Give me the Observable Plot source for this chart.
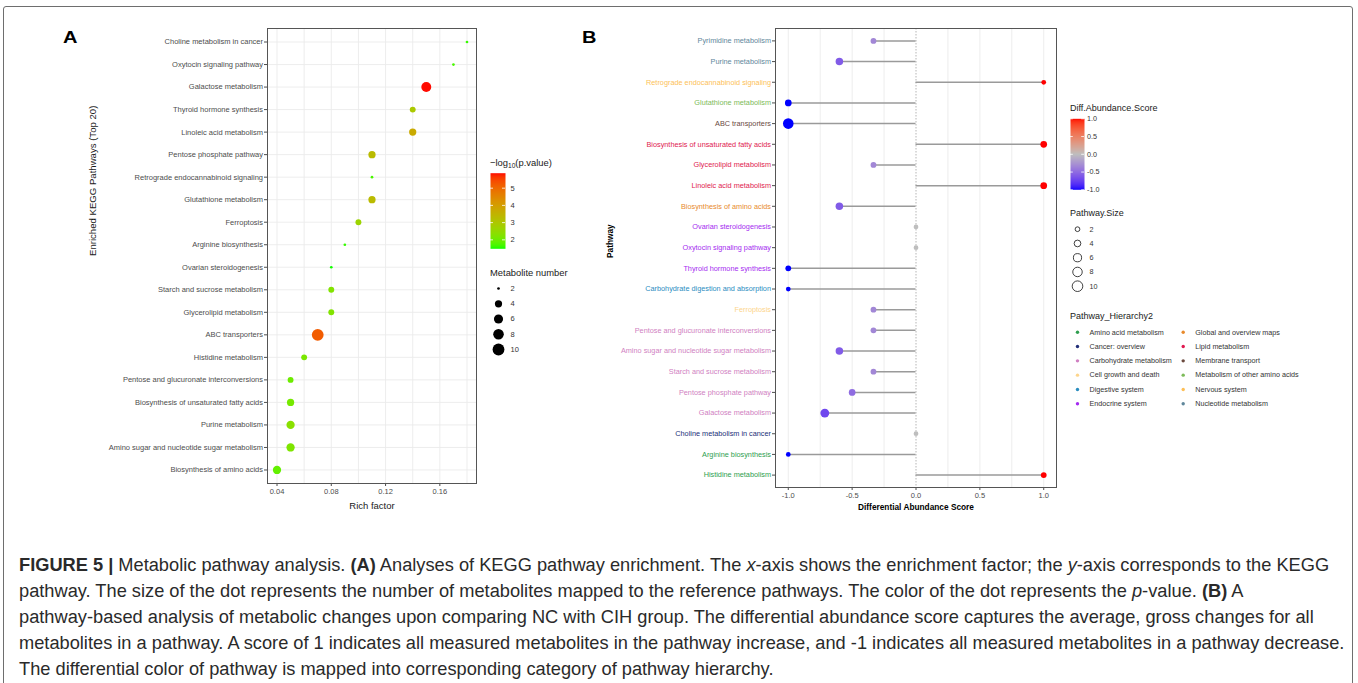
<!DOCTYPE html>
<html>
<head>
<meta charset="utf-8">
<script src="https://cdn.jsdelivr.net/npm/d3@7"></script>
<script src="https://cdn.jsdelivr.net/npm/@observablehq/plot@0.6"></script>
<style>
  html, body { margin: 0; padding: 0; background: #fff; overflow: hidden; }
  #root { position: relative; width: 1358px; height: 683px; overflow: hidden; font-family: "Liberation Sans", Arial, Helvetica, sans-serif; }
  .abs { position: absolute; }
  .abs svg { display: block; }
  .t { position: absolute; white-space: nowrap; }
  .sub { font-size: 0.7em; vertical-align: -0.3em; line-height: 0; }
</style>
</head>
<body>
<div id="root"></div>
<script>
const FONT = '"Liberation Sans", Arial, Helvetica, sans-serif';

// ---------------- Panel A: KEGG enrichment (top 20) ----------------
const pathwaysA = [
  "Choline metabolism in cancer", "Oxytocin signaling pathway", "Galactose metabolism",
  "Thyroid hormone synthesis", "Linoleic acid metabolism", "Pentose phosphate pathway",
  "Retrograde endocannabinoid signaling", "Glutathione metabolism", "Ferroptosis",
  "Arginine biosynthesis", "Ovarian steroidogenesis", "Starch and sucrose metabolism",
  "Glycerolipid metabolism", "ABC transporters", "Histidine metabolism",
  "Pentose and glucuronate interconversions", "Biosynthesis of unsaturated fatty acids",
  "Purine metabolism", "Amino sugar and nucleotide sugar metabolism", "Biosynthesis of amino acids"
];
const richFactor = [0.18, 0.17, 0.15, 0.14, 0.14, 0.11, 0.11, 0.11, 0.10, 0.09, 0.08, 0.08, 0.08, 0.07, 0.06, 0.05, 0.05, 0.05, 0.05, 0.04];
const negLog10P = [1.6, 1.7, 5.85, 2.95, 3.7, 3.3, 1.7, 3.3, 2.65, 1.6, 1.5, 2.25, 2.25, 5.2, 2.15, 2.0, 2.1, 2.35, 2.2, 1.9];
const metaboliteNumber = [2, 2, 7, 3, 4, 4, 2, 4, 3, 2, 2, 3, 3, 10, 3, 3, 4, 5, 5, 5];

const ticksA = [0.04, 0.08, 0.12, 0.16];
const gridA = [0.04, 0.06, 0.08, 0.10, 0.12, 0.14, 0.16, 0.18];
const colorTicksA = [2, 3, 4, 5];
const sizeTicksA = [2, 4, 6, 8, 10];

// ---------------- Panel B: differential abundance ----------------
const pathwaysB = [
  "Pyrimidine metabolism", "Purine metabolism", "Retrograde endocannabinoid signaling",
  "Glutathione metabolism", "ABC transporters", "Biosynthesis of unsaturated fatty acids",
  "Glycerolipid metabolism", "Linoleic acid metabolism", "Biosynthesis of amino acids",
  "Ovarian steroidogenesis", "Oxytocin signaling pathway", "Thyroid hormone synthesis",
  "Carbohydrate digestion and absorption", "Ferroptosis", "Pentose and glucuronate interconversions",
  "Amino sugar and nucleotide sugar metabolism", "Starch and sucrose metabolism",
  "Pentose phosphate pathway", "Galactose metabolism", "Choline metabolism in cancer",
  "Arginine biosynthesis", "Histidine metabolism"
];
const diffScore = [-0.333, -0.6, 1, -1, -1, 1, -0.333, 1, -0.6, 0, 0, -1, -1, -0.333, -0.333, -0.6, -0.333, -0.5, -0.714, 0, -1, 1];
const pathwaySize = [3, 5, 2, 4, 10, 4, 3, 4, 5, 2, 2, 3, 2, 3, 3, 5, 3, 4, 7, 2, 2, 3];
const hierarchyB = [
  "Nucleotide metabolism", "Nucleotide metabolism", "Nervous system",
  "Metabolism of other amino acids", "Membrane transport", "Lipid metabolism",
  "Lipid metabolism", "Lipid metabolism", "Global and overview maps",
  "Endocrine system", "Endocrine system", "Endocrine system",
  "Digestive system", "Cell growth and death", "Carbohydrate metabolism",
  "Carbohydrate metabolism", "Carbohydrate metabolism", "Carbohydrate metabolism",
  "Carbohydrate metabolism", "Cancer: overview", "Amino acid metabolism", "Amino acid metabolism"
];
const hierarchyNames = [
  "Amino acid metabolism", "Cancer: overview", "Carbohydrate metabolism",
  "Cell growth and death", "Digestive system", "Endocrine system",
  "Global and overview maps", "Lipid metabolism", "Membrane transport",
  "Metabolism of other amino acids", "Nervous system", "Nucleotide metabolism"
];
const hierarchyColors = [
  "#2e9e4f", "#222f78", "#d07fc2", "#fdd58c", "#2a8dbf", "#a52cf0",
  "#e88a2c", "#e01a50", "#6b4a3f", "#7dbb5a", "#fdbf57", "#5f879b"
];
const ticksB = [-1, -0.5, 0, 0.5, 1];
const gridB = [-1, -0.75, -0.5, -0.25, 0.25, 0.5, 0.75, 1];
const colorTicksB = [-1, -0.5, 0, 0.5, 1];
const sizeTicksB = [2, 4, 6, 8, 10];

// ---------------- helpers ----------------
const root = document.getElementById("root");
function put(el, x, y) {
  const w = document.createElement("div");
  w.className = "abs";
  w.style.left = x + "px";
  w.style.top = y + "px";
  w.appendChild(el);
  root.appendChild(w);
  return w;
}
function text(html, x, baseline, fs, extra = {}) {
  const d = document.createElement("div");
  d.className = "t";
  d.innerHTML = html;
  Object.assign(d.style, {
    left: x + "px", top: (baseline - 0.8465 * fs) + "px",
    fontSize: fs + "px", lineHeight: fs + "px", color: "#1a1a1a"
  }, extra);
  root.appendChild(d);
  return d;
}
const baseStyle = {fontFamily: FONT, fontSize: "7.5px", color: "#4d4d4d", background: "transparent", overflow: "visible"};

// ---------------- outer frame ----------------
const frameDiv = document.createElement("div");
Object.assign(frameDiv.style, {position: "absolute", left: "3px", top: "6px", width: "1348px", height: "720px", border: "1.5px solid #6e6e6e", borderRadius: "3px"});
root.appendChild(frameDiv);

// ---------------- Panel A ----------------
const dataA = pathwaysA.map((p, i) => ({pathway: p, rich: richFactor[i], logp: negLog10P[i], n: metaboliteNumber[i]}));
const colorA = {type: "linear", domain: [1.48, 5.87], range: ["#00ff00", "#ff0000"], interpolate: "lab"};
const rA = {type: "sqrt", domain: [0, 8], range: [1.35, 5.9]};

const plotA = Plot.plot({
  width: 480, height: 520,
  marginLeft: 267, marginRight: 4, marginTop: 28, marginBottom: 37,
  style: baseStyle,
  x: {domain: [0.033, 0.187]},
  y: {type: "point", domain: pathwaysA, padding: 0.6, round: false},
  r: rA,
  color: colorA,
  marks: [
    Plot.ruleX(gridA, {x: d => d, stroke: "#ebebeb", strokeWidth: 0.9}),
    Plot.ruleY(pathwaysA, {y: d => d, stroke: "#ebebeb", strokeWidth: 0.9}),
    Plot.axisX({ticks: ticksA, tickFormat: d3.format(".2f"), tickSize: 3, tickPadding: 2, label: null}),
    Plot.axisY({tickSize: 3, tickPadding: 1.5, label: null}),
    Plot.dot(dataA, {x: "rich", y: "pathway", r: d => d.n - 2, fill: "logp"}),
    Plot.frame({stroke: "#555"}),
    Plot.text(["Rich factor"], {text: d => d, frameAnchor: "bottom", dy: 25, fontSize: 9.5, fill: "#1a1a1a"}),
    Plot.text(["Enriched KEGG Pathways (Top 20)"], {text: d => d, frameAnchor: "left", dx: -175, rotate: -90, fontSize: 9.6, fill: "#1a1a1a"})
  ]
});
put(plotA, 0, 0);

// Legend A: colour bar
text("\u2212log<span class='sub'>10</span>(p.value)", 490, 166, 9.4);
const barA = Plot.plot({
  width: 60, height: 100,
  marginLeft: 10, marginRight: 35, marginTop: 12.7, marginBottom: 11.7,
  style: {...baseStyle, color: "#333"},
  x: {domain: [0, 1], axis: null},
  y: {domain: [1.48, 5.87]},
  color: colorA,
  marks: [
    Plot.raster({fill: (x, y) => y, x1: 0, x2: 1, y1: 1.48, y2: 5.87}),
    Plot.ruleY(colorTicksA, {y: d => d, x1: 0, x2: 0.2, stroke: "white", strokeWidth: 0.8}),
    Plot.ruleY(colorTicksA, {y: d => d, x1: 0.8, x2: 1, stroke: "white", strokeWidth: 0.8}),
    Plot.axisY({anchor: "right", ticks: colorTicksA, tickSize: 0, tickPadding: 5, label: null, tickFormat: d => String(d)})
  ]
});
put(barA, 480, 160);

// Legend A: size
text("Metabolite number", 490, 275.5, 9.4);
const sizeA = Plot.plot({
  width: 60, height: 80,
  marginLeft: 13, marginRight: 0, marginTop: 0, marginBottom: 0,
  style: {...baseStyle, color: "#333"},
  x: {axis: null},
  y: {type: "point", domain: sizeTicksA, range: [10, 71], padding: 0, round: false, axis: null},
  r: rA,
  marks: [
    Plot.dot(sizeTicksA, {y: d => d, r: d => d - 2, fill: "#000", frameAnchor: "left"}),
    Plot.text(sizeTicksA, {y: d => d, text: d => String(d), frameAnchor: "left", dx: 12, textAnchor: "start", fill: "#333"})
  ]
});
put(sizeA, 485, 278);

// Panel letters
text("A", 63, 44, 16, {fontWeight: "bold", color: "#000", transform: "scaleX(1.25)", transformOrigin: "left"});
text("B", 582, 44, 16, {fontWeight: "bold", color: "#000", transform: "scaleX(1.25)", transformOrigin: "left"});

// ---------------- Panel B ----------------
const dataB = pathwaysB.map((p, i) => ({pathway: p, score: diffScore[i], size: pathwaySize[i], hier: hierarchyB[i]}));
const colorB = {type: "linear", domain: [-1, 0, 1], range: ["#0000ff", "#bebebe", "#ff0000"], interpolate: "lab"};
const rB = {type: "sqrt", domain: [0, 10], range: [0, 5.3]};

const plotB = Plot.plot({
  width: 470, height: 520,
  marginLeft: 185, marginRight: 4, marginTop: 28, marginBottom: 33,
  style: baseStyle,
  x: {domain: [-1.1, 1.1]},
  y: {type: "point", domain: pathwaysB, padding: 0.6, round: false},
  r: rB,
  color: colorB,
  marks: [
    Plot.ruleX(gridB, {x: d => d, stroke: "#ebebeb", strokeWidth: 0.9}),
    Plot.ruleX([0], {x: d => d, stroke: "#b5b5b5", strokeDasharray: "1.5,1.5"}),
    Plot.axisX({ticks: ticksB, tickFormat: d => d.toFixed(1), tickSize: 3, tickPadding: 2, label: null}),
    Plot.axisY({tickSize: 3, tickFormat: () => "", label: null}),
    ...hierarchyNames.map((h, k) =>
      Plot.text(dataB.filter(d => d.hier === h), {
        y: "pathway", text: "pathway", frameAnchor: "left", dx: -4.5, textAnchor: "end",
        fill: hierarchyColors[k], fontSize: 7.3
      })
    ),
    Plot.ruleY(dataB, {y: "pathway", x1: 0, x2: "score", stroke: "#9a9a9a", strokeWidth: 1.5}),
    Plot.dot(dataB, {x: "score", y: "pathway", r: "size", fill: "score"}),
    Plot.frame({stroke: "#555"}),
    Plot.text(["Differential Abundance Score"], {text: d => d, frameAnchor: "bottom", dy: 22.5, fontSize: 8.3, fontWeight: "bold", fill: "#000"}),
    Plot.text(["Pathway"], {text: d => d, frameAnchor: "left", dx: -165, rotate: -90, fontSize: 8.3, fontWeight: "bold", fill: "#000"})
  ]
});
put(plotB, 590, 0);

// Legend B: colour bar
text("Diff.Abundance.Score", 1070, 112, 9);
const barB = Plot.plot({
  width: 60, height: 92,
  marginLeft: 10, marginRight: 36, marginTop: 10.3, marginBottom: 10.7,
  style: {...baseStyle, color: "#333", fontSize: "7.2px"},
  x: {domain: [0, 1], axis: null},
  y: {domain: [-1, 1]},
  color: colorB,
  marks: [
    Plot.raster({fill: (x, y) => y, x1: 0, x2: 1, y1: -1, y2: 1}),
    Plot.ruleY(colorTicksB, {y: d => d, x1: 0, x2: 0.2, stroke: "white", strokeWidth: 0.8}),
    Plot.ruleY(colorTicksB, {y: d => d, x1: 0.8, x2: 1, stroke: "white", strokeWidth: 0.8}),
    Plot.axisY({anchor: "right", ticks: colorTicksB, tickSize: 0, tickPadding: 2.5, label: null, tickFormat: d => d.toFixed(1)})
  ]
});
put(barB, 1060, 108);

// Legend B: size
text("Pathway.Size", 1070, 216.3, 9);
const sizeB = Plot.plot({
  width: 60, height: 75,
  marginLeft: 17, marginRight: 0, marginTop: 0, marginBottom: 0,
  style: {...baseStyle, color: "#333", fontSize: "7.2px"},
  x: {axis: null},
  y: {type: "point", domain: sizeTicksB, range: [8.7, 65.7], padding: 0, round: false, axis: null},
  r: rB,
  marks: [
    Plot.dot(sizeTicksB, {y: d => d, r: d => d, stroke: "#111", fill: "none", strokeWidth: 0.8, frameAnchor: "left"}),
    Plot.text(sizeTicksB, {y: d => d, text: d => String(d), frameAnchor: "left", dx: 12, textAnchor: "start", fill: "#333"})
  ]
});
put(sizeB, 1060, 220);

// Legend B: hierarchy
text("Pathway_Hierarchy2", 1070, 320, 9);
const hierLegend = Plot.plot({
  width: 295, height: 95,
  marginLeft: 0, marginRight: 0, marginTop: 0, marginBottom: 0,
  style: {...baseStyle, color: "#333", fontSize: "7.2px"},
  x: {type: "point", domain: [0, 1], range: [17, 122.7], padding: 0, round: false, axis: null},
  y: {type: "point", domain: [0, 1, 2, 3, 4, 5], range: [11.7, 83.3], padding: 0, round: false, axis: null},
  color: {type: "identity"},
  marks: [
    Plot.dot(hierarchyNames, {x: (d, i) => Math.floor(i / 6), y: (d, i) => i % 6, r: 1.7, fill: (d, i) => hierarchyColors[i]}),
    Plot.text(hierarchyNames, {x: (d, i) => Math.floor(i / 6), y: (d, i) => i % 6, text: d => d, dx: 12, textAnchor: "start", fill: "#333"})
  ]
});
put(hierLegend, 1060, 320);

// ---------------- Caption ----------------
const captionLines = [
  "<b>FIGURE 5 |</b> Metabolic pathway analysis. <b>(A)</b> Analyses of KEGG pathway enrichment. The <i>x</i>-axis shows the enrichment factor; the <i>y</i>-axis corresponds to the KEGG",
  "pathway. The size of the dot represents the number of metabolites mapped to the reference pathways. The color of the dot represents the <i>p</i>-value. <b>(B)</b> A",
  "pathway-based analysis of metabolic changes upon comparing NC with CIH group. The differential abundance score captures the average, gross changes for all",
  "metabolites in a pathway. A score of 1 indicates all measured metabolites in the pathway increase, and -1 indicates all measured metabolites in a pathway decrease.",
  "The differential color of pathway is mapped into corresponding category of pathway hierarchy."
];
const capBase = [571, 597, 623, 649, 675];
const capEls = captionLines.map((h, i) => text(h, 19, capBase[i], 18, {color: "#2a2a2a"}));
const w4 = capEls[3].getBoundingClientRect().width;
const fsCap = 18 * 1326 / w4;
capEls.forEach((el, i) => {
  el.style.fontSize = fsCap + "px";
  el.style.lineHeight = fsCap + "px";
  el.style.top = (capBase[i] - 0.8465 * fsCap) + "px";
});
</script>
</body>
</html>
